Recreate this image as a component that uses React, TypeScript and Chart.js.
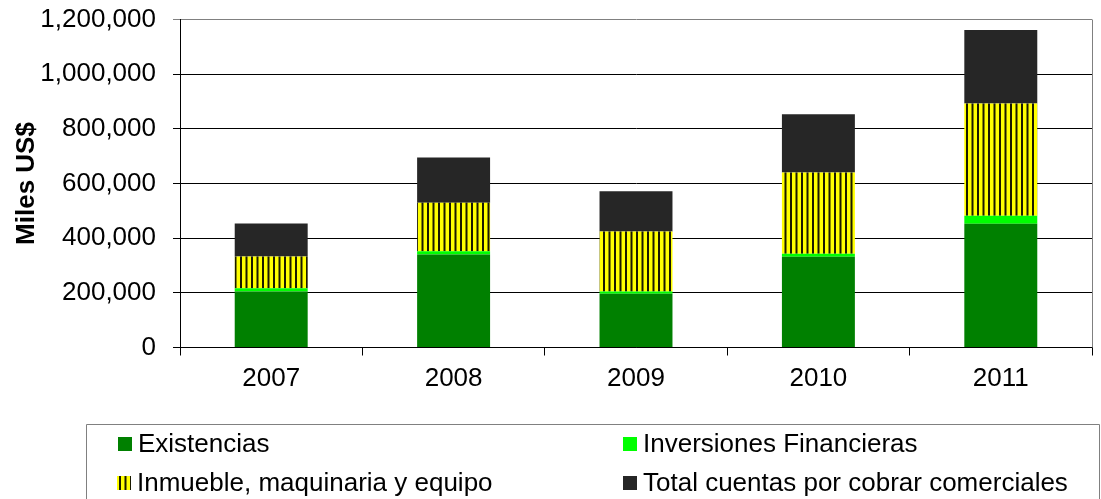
import React, { useEffect, useRef } from 'react';
import { Chart, registerables } from 'chart.js';

Chart.register(...registerables);

const categories = ['2007', '2008', '2009', '2010', '2011'];
const existencias = [205000, 340000, 197000, 332000, 453000];
const inversiones = [12000, 12000, 8000, 11000, 29000];
const inmueble = [116000, 178000, 219000, 297000, 411000];
const cuentas = [121000, 165000, 148000, 213000, 269000];
const seriesLabels = [
  'Existencias',
  'Inversiones Financieras',
  'Inmueble, maquinaria y equipo',
  'Total cuentas por cobrar comerciales',
];
const yMin = 0;
const yMax = 1200000;
const yStep = 200000;
const yTitle = 'Miles US$';

const FONT = '"Liberation Sans", Arial, sans-serif';

function makeStripes(): CanvasPattern | string {
  const c = document.createElement('canvas');
  c.width = 11;
  c.height = 4;
  const g = c.getContext('2d');
  if (!g) return '#FFFF00';
  g.fillStyle = '#FFFF00';
  g.fillRect(0, 0, 11, 4);
  g.fillStyle = '#1a1a00';
  g.fillRect(3.5, 0, 2, 4);
  g.fillRect(9, 0, 2, 4);
  return g.createPattern(c, 'repeat') || '#FFFF00';
}

const legendPlugin = {
  id: 'customLegend',
  afterDraw(chart: any) {
    const ctx = chart.ctx as CanvasRenderingContext2D;
    const area = chart.chartArea;
    ctx.save();
    // plot border right
    ctx.strokeStyle = '#808080';
    ctx.lineWidth = 1;
    ctx.beginPath();
    ctx.moveTo(Math.round(area.right) + 0.5, area.top);
    ctx.lineTo(Math.round(area.right) + 0.5, area.bottom);
    ctx.stroke();
    // legend box
    ctx.beginPath();
    ctx.moveTo(86.5, 499);
    ctx.lineTo(86.5, 424.5);
    ctx.lineTo(1099.5, 424.5);
    ctx.lineTo(1099.5, 499);
    ctx.stroke();
    const pos = [
      [118, 437],
      [623, 437],
      [117, 476],
      [623, 476],
    ];
    chart.data.datasets.forEach((ds: any, i: number) => {
      const [x, y] = pos[i];
      ctx.fillStyle = ds.backgroundColor;
      ctx.fillRect(x, y, 14, 14);
      ctx.fillStyle = '#000';
      ctx.font = `26px ${FONT}`;
      ctx.textBaseline = 'middle';
      ctx.textAlign = 'left';
      ctx.fillText(ds.label, x + 20, y + 8);
    });
    ctx.restore();
  },
};

export default function App() {
  const ref = useRef<HTMLCanvasElement | null>(null);

  useEffect(() => {
    if (!ref.current) return;
    const stripes = makeStripes();
    const chart = new Chart(ref.current, {
      type: 'bar',
      data: {
        labels: categories,
        datasets: [
          { label: seriesLabels[0], data: existencias, backgroundColor: '#008000' },
          { label: seriesLabels[1], data: inversiones, backgroundColor: '#00FF00' },
          { label: seriesLabels[2], data: inmueble, backgroundColor: stripes as any },
          { label: seriesLabels[3], data: cuentas, backgroundColor: '#262626' },
        ],
      },
      options: {
        animation: false,
        responsive: false,
        maintainAspectRatio: false,
        layout: { padding: { top: 19.5, right: 9, left: 0, bottom: 0 } },
        plugins: {
          legend: { display: false },
          tooltip: { enabled: false },
        },
        datasets: {
          bar: { categoryPercentage: 1, barPercentage: 0.4 },
        },
        scales: {
          x: {
            stacked: true,
            offset: true,
            grid: {
              offset: true,
              drawOnChartArea: false,
              drawTicks: true,
              tickLength: 8,
              color: '#000',
            },
            border: { color: '#000', width: 1 },
            ticks: { color: '#000', font: { family: FONT, size: 26 }, padding: 8 },
            afterFit: (scale: any) => {
              scale.height = 151.5;
            },
          },
          y: {
            stacked: true,
            min: yMin,
            max: yMax,
            grid: {
              color: (c: any) => (c.tick && c.tick.value === yMax ? '#808080' : '#000'),
              tickLength: 7,
            },
            border: { color: '#000', width: 1 },
            ticks: {
              stepSize: yStep,
              color: '#000',
              font: { family: FONT, size: 26 },
              padding: 17,
              callback: (v: any) => Number(v).toLocaleString('en-US'),
            },
            title: {
              display: true,
              text: yTitle,
              color: '#000',
              font: { family: FONT, size: 26, weight: 'bold' },
              padding: { top: 11, bottom: 0 },
            },
            afterFit: (scale: any) => {
              scale.width = 180;
              scale.paddingTop = 0;
              scale.paddingBottom = 0;
            },
          },
        },
      },
      plugins: [legendPlugin],
    });
    return () => chart.destroy();
  }, []);

  return (
    <div style={{ position: 'fixed', left: 0, top: 0, width: 1101, height: 499, background: '#fff' }}>
      <canvas ref={ref} width={1101} height={499} style={{ width: 1101, height: 499, display: 'block' }} />
    </div>
  );
}
